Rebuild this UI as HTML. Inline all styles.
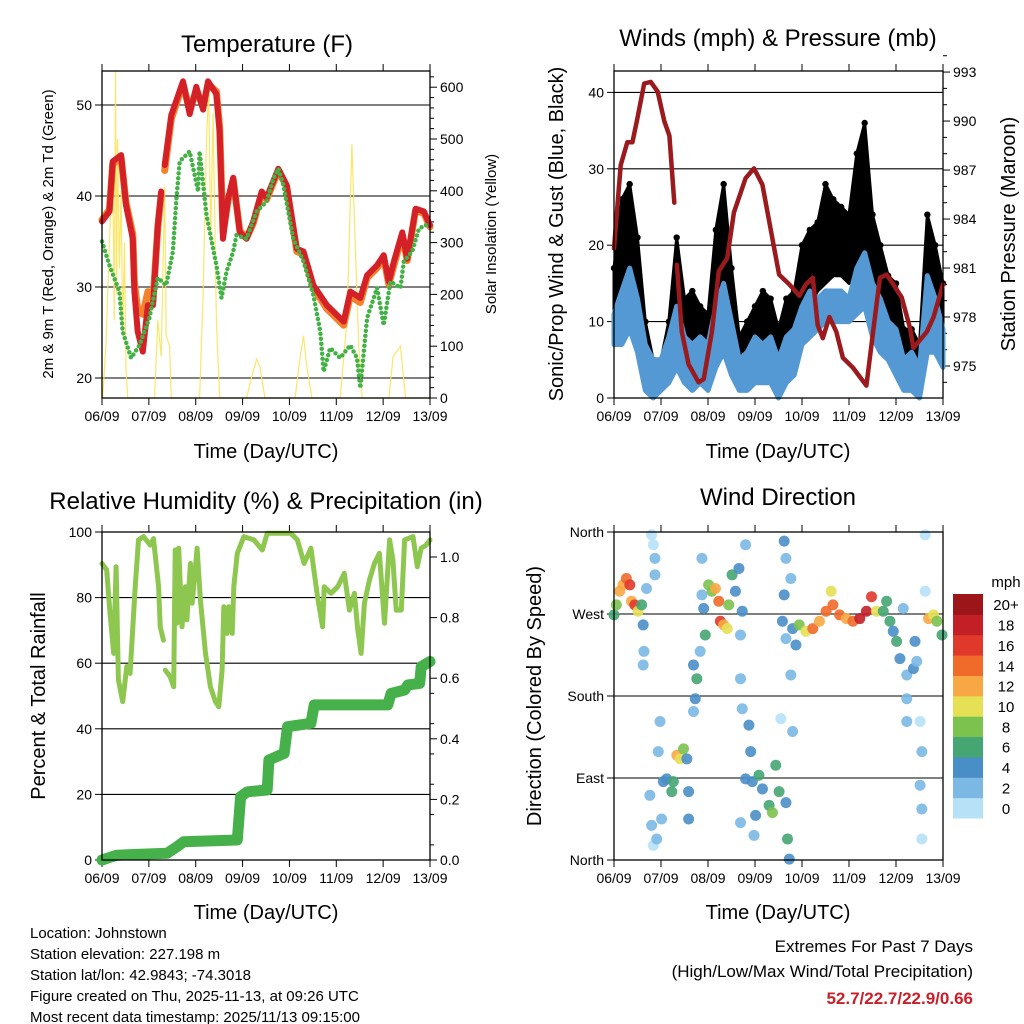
<!DOCTYPE html>
<html><head><meta charset="utf-8">
<style>
body{margin:0;background:#fff;}
svg{display:block;font-family:"Liberation Sans",sans-serif;}
</style></head>
<body>
<svg id="c" width="1024" height="1024" viewBox="0 0 1024 1024" xmlns="http://www.w3.org/2000/svg">
<g id="static">
<text x="267" y="52" font-size="24" text-anchor="middle">Temperature (F)</text>
<text x="778" y="46" font-size="24" text-anchor="middle">Winds (mph) &amp; Pressure (mb)</text>
<text x="266" y="509" font-size="24" text-anchor="middle">Relative Humidity (%) &amp; Precipitation (in)</text>
<text x="778" y="505" font-size="24" text-anchor="middle">Wind Direction</text>
<text x="266" y="458" font-size="20" text-anchor="middle">Time (Day/UTC)</text>
<text x="778" y="458" font-size="20" text-anchor="middle">Time (Day/UTC)</text>
<text x="266" y="919" font-size="20" text-anchor="middle">Time (Day/UTC)</text>
<text x="778" y="919" font-size="20" text-anchor="middle">Time (Day/UTC)</text>
<text transform="translate(53,234) rotate(-90)" font-size="15" text-anchor="middle">2m &amp; 9m T (Red, Orange) &amp; 2m Td (Green)</text>
<text transform="translate(496,234) rotate(-90)" font-size="15" text-anchor="middle">Solar Insolation (Yellow)</text>
<text transform="translate(563,234) rotate(-90)" font-size="20" text-anchor="middle">Sonic/Prop Wind &amp; Gust (Blue, Black)</text>
<text transform="translate(1015,234) rotate(-90)" font-size="20" text-anchor="middle">Station Pressure (Maroon)</text>
<text transform="translate(45,696) rotate(-90)" font-size="20" text-anchor="middle">Percent &amp; Total Rainfall</text>
<text transform="translate(541,696) rotate(-90)" font-size="20" text-anchor="middle">Direction (Colored By Speed)</text>
<g font-size="15">
<text x="30" y="938">Location: Johnstown</text>
<text x="30" y="959">Station elevation: 227.198 m</text>
<text x="30" y="980">Station lat/lon: 42.9843; -74.3018</text>
<text x="30" y="1001">Figure created on Thu, 2025-11-13, at 09:26 UTC</text>
<text x="30" y="1022">Most recent data timestamp: 2025/11/13 09:15:00</text>
</g>
<text x="973" y="952" font-size="17" text-anchor="end">Extremes For Past 7 Days</text>
<text x="973" y="977" font-size="17" text-anchor="end">(High/Low/Max Wind/Total Precipitation)</text>
<text x="973" y="1004" font-size="17" font-weight="bold" fill="#c8202a" text-anchor="end">52.7/22.7/22.9/0.66</text>
<text x="1006" y="587" font-size="15" text-anchor="middle">mph</text>
</g>
</svg>
<script>
// ---- Temperature panel data ----
const tempTimes=[0,3.8,5.5,9.8,12.3,15.8,16.6,18.3,20.9,23.5,26.1,28.6,30.3,null,32.1,35.5,41.5,44.9,48.3,51.8,54.3,58.6,60.3,62,64.6,67.2,70.6,74,77.5,81.8,84.3,90.3,94.6,99.8,103.2,108.3,115.2,123.8,127.2,132.3,135.8,140.9,144.3,146.9,149.5,153.8,156.3,160.6,164.9,168];
const tempRed=[37.2,38.3,43.8,44.5,39,35.3,29.5,25.1,22.9,28,28,36.8,40.5,null,43.4,48.9,52.6,49,52,49.5,52.6,51.2,47,35.3,39.7,42,36,35.3,37.2,40.5,39.8,43,41.2,34.2,33.9,30.2,28,26.2,29.5,28.8,31.3,32.4,33.5,30.6,32.8,36,33.1,38.6,38.3,36.8];
const tempOrange=[37.4,38.5,43.5,44.2,39.3,35.8,30.5,27.5,27,29.5,28.5,36.5,40.2,null,42.8,48.5,52.3,49.4,51.6,49.8,52.3,51.5,47.5,36,39.5,41.8,36.2,35.4,37,40.3,39.6,42.8,41,33.9,33.6,29.9,27.6,25.8,29,28.3,31,32.1,33.2,30.3,32.4,35.7,32.9,38.4,38.1,36.6];
const dewTimes=[0,3.8,8.9,10.6,14.9,19.2,24.3,28.6,32.9,36.3,38.1,39.8,44.9,49.2,50,53.5,58.6,61.2,63.8,67.2,68.9,74,79.2,84.3,87.8,90.3,92.9,98,103.2,108.3,111.8,113.5,116.9,122,127.2,130.6,132.3,135.8,140.9,144.3,147.7,152.9,154.6,158.9,162.3,165.7,168];
const dewVals=[35,32.4,29.5,25.1,22.2,23.6,26.6,31,30.2,33.9,39.7,43.8,44.9,40.5,44.9,37.9,32.4,28.8,31.7,33.9,35.7,35.3,38.3,39.4,41.9,43,41.2,35.3,32.8,29.1,25.1,20.7,23.3,22.2,23.6,22.2,18.9,26.6,29.9,25.8,30.6,29.9,32.8,33.9,36.4,36.8,36.8];
const solarTimes=[0,0.3,2,3.8,5.5,6.3,6.9,7.5,8,8.9,9.8,10.6,11.5,12.3,13.2,26.9,28.6,30.3,32.1,32.9,34.6,35.5,50,51.8,53.5,54.7,55.7,56.9,58.6,60.3,74,76.6,79.2,80.9,83.5,98.9,101.5,103.2,104.9,107.5,122,125.5,128,129.7,131.5,133.2,146.9,149.1,152.9,155.5,168];
const solarVals=[0,0,100,300,450,150,630,200,500,250,400,120,300,50,0,0,150,80,410,120,100,0,0,200,500,600,300,550,150,0,0,40,75,60,0,0,80,120,60,0,0,150,490,300,100,0,0,80,100,0,0];
const tempTicks=[20,30,40,50];
const solarTicks=[0,100,200,300,400,500,600];
const dayLabels=["06/09","07/09","08/09","09/09","10/09","11/09","12/09","13/09"];
// ---- Wind panel data ----
const windTimes=[0,4,8,12,16,20,24,28,32,36,40,44,48,52,56,60,64,68,72,76,80,84,88,92,96,100,104,108,112,116,120,124,128,132,136,140,144,148,152,156,160,164,168];
const windLo=[7,7,9,6,1,0,1,2,4,2,1,2,1,4,6,3,1,1,2,2,2,0,2,3,7,8,9,10,10,10,10,11,12,8,6,5,3,1,1,0,6,6,4];
const windHi=[11,14,17,13,7,5,5,8,12,8,7,8,7,12,15,10,5,6,8,7,8,5,8,9,12,14,13,14,14,14,13,17,19,15,13,10,9,5,6,4,16,13,9];
const gustLo=[10,12,14,10,3,2,2,4,8,5,4,5,4,7,10,6,3,4,5,5,5,3,5,6,10,12,14,15,16,16,15,17,20,12,10,8,6,3,3,1,10,9,7];
const gustHi=[17,26,28,21,10,5,5,10,21,13,14,12,11,22,28,17,8,10,12,14,13,9,13,14,20,22,23,28,26,25,24,32,36,24,20,16,15,9,9,7,24,20,15];
const pressTimes=[0,3.4,6.8,9.4,12,15.4,18.8,22.3,25.7,28.3,30.8,null,32.1,34.6,38.1,43.2,45.8,50,53.5,57.8,61.2,67.2,71.5,75.8,80.9,84.3,89.5,94.6,98,101.5,104,106.6,110,113.5,116.9,122,128.9,132.3,135.8,139.2,142.6,146.9,151.2,152.9,159.8,163.2,168];
const pressVals=[982.2,987.3,988.7,988.7,990.2,992.3,992.4,991.8,990,989.1,985,null,981.2,977.1,975.1,974,974.2,977.1,980.8,981.6,984.4,986.5,987.1,986.1,982.8,980.6,980,979.3,980,980.4,977.5,976.7,978,977.1,975.5,974.9,973.8,977.1,980.4,980.6,980,979.2,977.3,976.1,977.1,978,980];
const windTicks=[0,10,20,30,40];
const pressTicks=[975,978,981,984,987,990,993];
// ---- Humidity panel data ----
const rhTimes=[0,2.4,4.1,6,7.2,8.4,10.6,12.7,14.4,17,18.7,21.3,24.7,26.4,29,29.8,31.5,null,32.4,34.9,36.7,37.5,38.4,39.3,41,42.7,43.5,45.3,46.2,48.7,50.4,53,55.5,58.1,59.8,61.5,62.4,64.1,64.9,66.7,67.5,69.3,72.7,77.8,82.1,84.6,89.8,96.7,100.1,103.5,107,110.4,113,113.8,117.3,120.7,124.1,126.7,129.3,131,132.7,134.4,137,139.5,142.1,144.7,147.3,149,150.7,153.3,155,159.3,161.5,163.5,166.1,168];
const rhVals=[90.4,88.4,75.2,63,89.4,54.9,48.3,59,56.9,83.3,97.6,98.6,96,98,83.3,71.1,67,null,57.9,55.9,52.8,94.5,72.2,95.1,71.1,83.3,73.2,90.4,78.3,95.1,79.3,63,52.8,48.3,46.7,57.9,77.2,69.1,77.2,69.1,83.3,93.5,98.6,97.6,94.5,99.6,99.6,99.6,97.6,90.4,95.1,80.3,71.1,83.3,81.3,83.3,87.4,76.2,81.3,70.1,63,78.3,85.4,90.4,93.5,72.2,97.6,91.5,76.2,76.2,97.6,98.6,89.4,95.1,96,97.6];
const rainTimes=[0,7.5,33.3,38.4,41.8,69.3,71,74.4,84.6,85.5,93.3,95,107,108.7,146.4,148.1,155,156.7,162.7,163.5,168];
const rainVals=[0,0.016,0.022,0.044,0.06,0.066,0.209,0.225,0.231,0.33,0.352,0.44,0.451,0.512,0.512,0.55,0.561,0.578,0.583,0.638,0.655];
const rhTicks=[0,20,40,60,80,100];
const rainTicks=[0,0.2,0.4,0.6,0.8,1.0];
// ---- Wind direction panel data ----
const dirTimes=[0,1.2,2.9,4.6,6.3,8.1,8.9,10.6,12.3,14.1,14.9,15.3,14.9,19.2,20.1,20.9,16.6,20.9,23.5,22.6,18.3,19.2,20.1,21.8,24.3,25.2,26.9,29.5,30.3,32.1,33.8,35.5,37.2,38.1,38.1,40.6,42.3,41.5,40.6,44,46.6,45.8,44.9,48.3,50,51.8,53.5,54.3,56,57.8,58.6,60.3,62,63.8,65.5,64.6,64.6,67.2,44.9,65.5,68.9,69.8,67.2,70.6,74,75.8,72.3,79.2,80.9,82.6,84.3,87.8,88.6,89.5,64.6,71.5,86.9,87.8,90.3,86.9,86,87.8,91.2,92.9,94.6,98,101.5,104.9,108.3,110.9,111.8,115.2,118.6,122,125.5,128.9,131.5,134,137.5,139.2,140.9,142.6,144.3,146,147.7,149.5,149.5,149.5,152.9,153.7,154.6,156.3,157.2,156.3,157.2,157.2,158.9,158.9,160.6,163.2,164.9,167.5,90.3,91.2,85.2];
const dirDegs=[269,280,295,302,309,302,284,280,273,280,258,229,214,357,346,331,298,313,152,119,71,38,16,23,45,86,89,75,86,115,111,122,111,75,45,214,199,177,163,229,247,276,291,302,295,298,284,262,258,254,280,313,295,320,273,247,199,346,331,166,148,119,89,86,93,78,49,60,52,104,75,63,23,1,41,27,350,331,309,291,262,243,254,236,258,251,254,262,273,295,280,269,265,262,265,273,289,273,273,284,262,251,240,221,276,203,177,152,210,240,218,152,119,82,56,23,357,295,265,269,262,247,203,141,155];
const dirSpeeds=[6,8,12,13,14,17,12,16,10,6,4,3,2,1,0,2,3,2,3,2,2,2,1,3,3,4,5,7,6,12,10,8,5,4,4,4,7,4,3,3,6,4,3,8,9,12,14,16,13,11,8,6,5,4,4,3,2,2,3,3,4,4,4,5,6,5,4,7,9,7,6,4,6,4,2,3,4,3,3,4,4,3,5,4,9,11,14,13,15,10,15,14,13,14,19,19,16,10,7,6,6,5,6,4,3,2,2,2,4,5,3,1,3,2,3,1,0,1,12,10,8,6,3,3,1];
const dirTicks=["North","East","South","West","North"];
const speedBins=["0","2","4","6","8","10","12","14","16","18","20+"];
const speedColors=["#b6e1f7","#7bb8e4","#4a8ec7","#45a673","#7cc24f","#e6e055","#f7a844","#f06a2a","#e0392b","#c21f26","#9b1519"];

const NS="http://www.w3.org/2000/svg";
const svg=document.getElementById('c');
function el(tag,attrs,parent){const e=document.createElementNS(NS,tag);for(const k in attrs)e.setAttribute(k,attrs[k]);(parent||svg).appendChild(e);return e;}
function linePath(xs,ys,fx,fy){let d="",pen=false;for(let i=0;i<xs.length;i++){if(xs[i]===null||ys[i]===null){pen=false;continue;}d+=(pen?"L":"M")+fx(xs[i]).toFixed(1)+","+fy(ys[i]).toFixed(1);pen=true;}return d;}

function frame(x0,x1,y0,y1,name){
  const g=el('g',{});
  
  
  const fx=t=>x0+t/168*(x1-x0);
  for(let d=0;d<=7;d++){
    const x=fx(d*24);
    el('line',{x1:x,x2:x,y1:y1,y2:y1+7,stroke:'#000','stroke-width':1},g);
    el('line',{x1:x,x2:x,y1:y0,y2:y0-7,stroke:'#000','stroke-width':1},g);
    const lb=el('text',{x:x,y:y1+23,'font-size':14,'text-anchor':'middle'},g);
    lb.textContent=dayLabels[d];
    
    
  }
  return {g,fx};
}
function border(x0,x1,y0,y1,name){
  const r=el('rect',{x:x0,y:y0,width:x1-x0,height:y1-y0,fill:'none',stroke:'#000','stroke-width':1.3});
  
  
}
function leftAxis(ticks,fy,x0,x1,labels,grid,fmt,name){
  const g=el('g',{});
  
  
  ticks.forEach((v,i)=>{const y=fy(v);
    el('line',{x1:x0-7,x2:x0,y1:y,y2:y,stroke:'#000'},g);
    if(grid)el('line',{x1:x0,x2:x1,y1:y,y2:y,stroke:'#000','stroke-width':1.1},g);
    const t=el('text',{x:x0-10,y:y+5,'font-size':14,'text-anchor':'end'},g);t.textContent=labels?labels[i]:fmt(v);});
}
function rightAxis(ticks,fy,x1,fmt,minor,name){
  const g=el('g',{});
  
  
  ticks.forEach(v=>{const y=fy(v);
    el('line',{x1:x1,x2:x1+7,y1:y,y2:y,stroke:'#000'},g);
    const t=el('text',{x:x1+10,y:y+5,'font-size':14,'text-anchor':'start'},g);t.textContent=fmt(v);});
  minor.forEach(v=>{const y=fy(v);el('line',{x1:x1,x2:x1+4,y1:y,y2:y,stroke:'#000'},g);});
}

// ===== Panel 1 Temperature =====
(function(){
  const x0=102,x1=430,y0=71,y1=398;
  const {fx}=frame(x0,x1,y0,y1,'temperature');
  const fy=T=>378-(T-20)*9.1;
  const fs=S=>398-S*0.518;
  leftAxis(tempTicks,fy,x0,x1,null,true,v=>v,'temp-left-axis');
  const mn=[];for(let s=0;s<=620;s+=20)if(s%100)mn.push(s);
  rightAxis(solarTicks,fs,x1,v=>v,mn,'solar-right-axis');
  const sp=el('path',{d:linePath(solarTimes,solarVals,fx,fs),fill:'none',stroke:'#fbe35a','stroke-width':1.2,opacity:0.9});
  
  
  const op=el('path',{d:linePath(tempTimes,tempOrange,fx,fy),fill:'none',stroke:'#f4812c','stroke-width':7,'stroke-linejoin':'round','stroke-linecap':'round'});
  
  
  const rp=el('path',{d:linePath(tempTimes,tempRed,fx,fy),fill:'none',stroke:'#d42027','stroke-width':6,'stroke-linejoin':'round','stroke-linecap':'round'});
  
  
  const gp=el('path',{d:linePath(dewTimes,dewVals,fx,fy),fill:'none',stroke:'#44b146','stroke-width':4.5,'stroke-dasharray':'0 5','stroke-linecap':'round'});
  
  
  border(x0,x1,y0,y1,'temperature');
})();

// ===== Panel 2 Winds =====
(function(){
  const x0=614,x1=943,y0=71,y1=398;
  const {fx}=frame(x0,x1,y0,y1,'winds');
  const fy=w=>398-w*7.64;
  const fp=p=>366-(p-975)*16.33;
  leftAxis(windTicks,fy,x0,x1,null,true,v=>v,'wind-left-axis');
  const mn=[];for(let p=974;p<=994;p++)if((p-975)%3)mn.push(p);
  rightAxis(pressTicks,fp,x1,v=>v,mn,'pressure-right-axis');
  let d="";windTimes.forEach((t,i)=>{d+=(i?"L":"M")+fx(t).toFixed(1)+","+fy(gustHi[i]).toFixed(1);});
  for(let i=windTimes.length-1;i>=0;i--)d+="L"+fx(windTimes[i]).toFixed(1)+","+fy(gustLo[i]).toFixed(1);
  const gb=el('path',{d:d+"Z",fill:'#000',stroke:'#000','stroke-width':3,'stroke-linejoin':'round'});
  
  
  windTimes.forEach((t,i)=>{
    const c=el('circle',{cx:fx(t),cy:fy(gustHi[i]),r:3.2,fill:'#000'});
    
    
  });
  let d2="";windTimes.forEach((t,i)=>{d2+=(i?"L":"M")+fx(t).toFixed(1)+","+fy(windHi[i]).toFixed(1);});
  for(let i=windTimes.length-1;i>=0;i--)d2+="L"+fx(windTimes[i]).toFixed(1)+","+fy(windLo[i]).toFixed(1);
  const wb=el('path',{d:d2+"Z",fill:'#5499d4',stroke:'#5499d4','stroke-width':5,'stroke-linejoin':'round'});
  
  
  const pp=el('path',{d:linePath(pressTimes,pressVals,fx,fp),fill:'none',stroke:'#9a1a1d','stroke-width':4.5,'stroke-linejoin':'round','stroke-linecap':'round'});
  
  
  border(x0,x1,y0,y1,'winds');
})();

// ===== Panel 3 Humidity =====
(function(){
  const x0=102,x1=430,y0=532,y1=860;
  const {fx}=frame(x0,x1,y0,y1,'humidity');
  const fy=v=>860-v*3.28;
  const fr=r=>860-r*303;
  leftAxis(rhTicks,fy,x0,x1,null,true,v=>v,'rh-left-axis');
  const mn=[];for(let i=1;i<=11;i+=2)mn.push(i/20);
  rightAxis(rainTicks,fr,x1,v=>v.toFixed(1),mn,'rain-right-axis');
  const rh=el('path',{d:linePath(rhTimes,rhVals,fx,fy),fill:'none',stroke:'#8ec74f','stroke-width':5,'stroke-linejoin':'round','stroke-linecap':'round'});
  
  
  const rn=el('path',{d:linePath(rainTimes,rainVals,fx,fr),fill:'none',stroke:'#46b04a','stroke-width':11,'stroke-linejoin':'round','stroke-linecap':'round'});
  
  
  border(x0,x1,y0,y1,'humidity');
})();

// ===== Panel 4 Wind direction =====
(function(){
  const x0=614,x1=943,y0=532,y1=860;
  const {fx}=frame(x0,x1,y0,y1,'direction');
  const fy=d=>860-d/360*328;
  const g=el('g',{});
  
  
  [0,90,180,270,360].forEach((v,i)=>{const y=fy(v);
    el('line',{x1:x0-7,x2:x0,y1:y,y2:y,stroke:'#000'},g);
    if(i>0&&i<4)el('line',{x1:x0,x2:x1,y1:y,y2:y,stroke:'#000','stroke-width':1.1},g);
    const t=el('text',{x:x0-10,y:y+5,'font-size':14,'text-anchor':'end'},g);t.textContent=dirTicks[i];});
  dirTimes.forEach((t,i)=>{
    const b=Math.min(10,Math.floor(dirSpeeds[i]/2));
    const c=el('circle',{cx:fx(t),cy:fy(dirDegs[i]),r:5.5,fill:speedColors[b],opacity:0.9});
    
    
  });
  border(x0,x1,y0,y1,'direction');
  const cb=el('g',{});
  
  
  const h=224/11;
  speedBins.forEach((lab,i)=>{
    const y=818-(i+1)*h;
    el('rect',{x:953,y:y,width:30,height:h+0.5,fill:speedColors[i]},cb);
    const t=el('text',{x:1006,y:y+h/2+6,'font-size':15,'text-anchor':'middle'},cb);t.textContent=lab;
  });
})();
</script>
</body></html>
